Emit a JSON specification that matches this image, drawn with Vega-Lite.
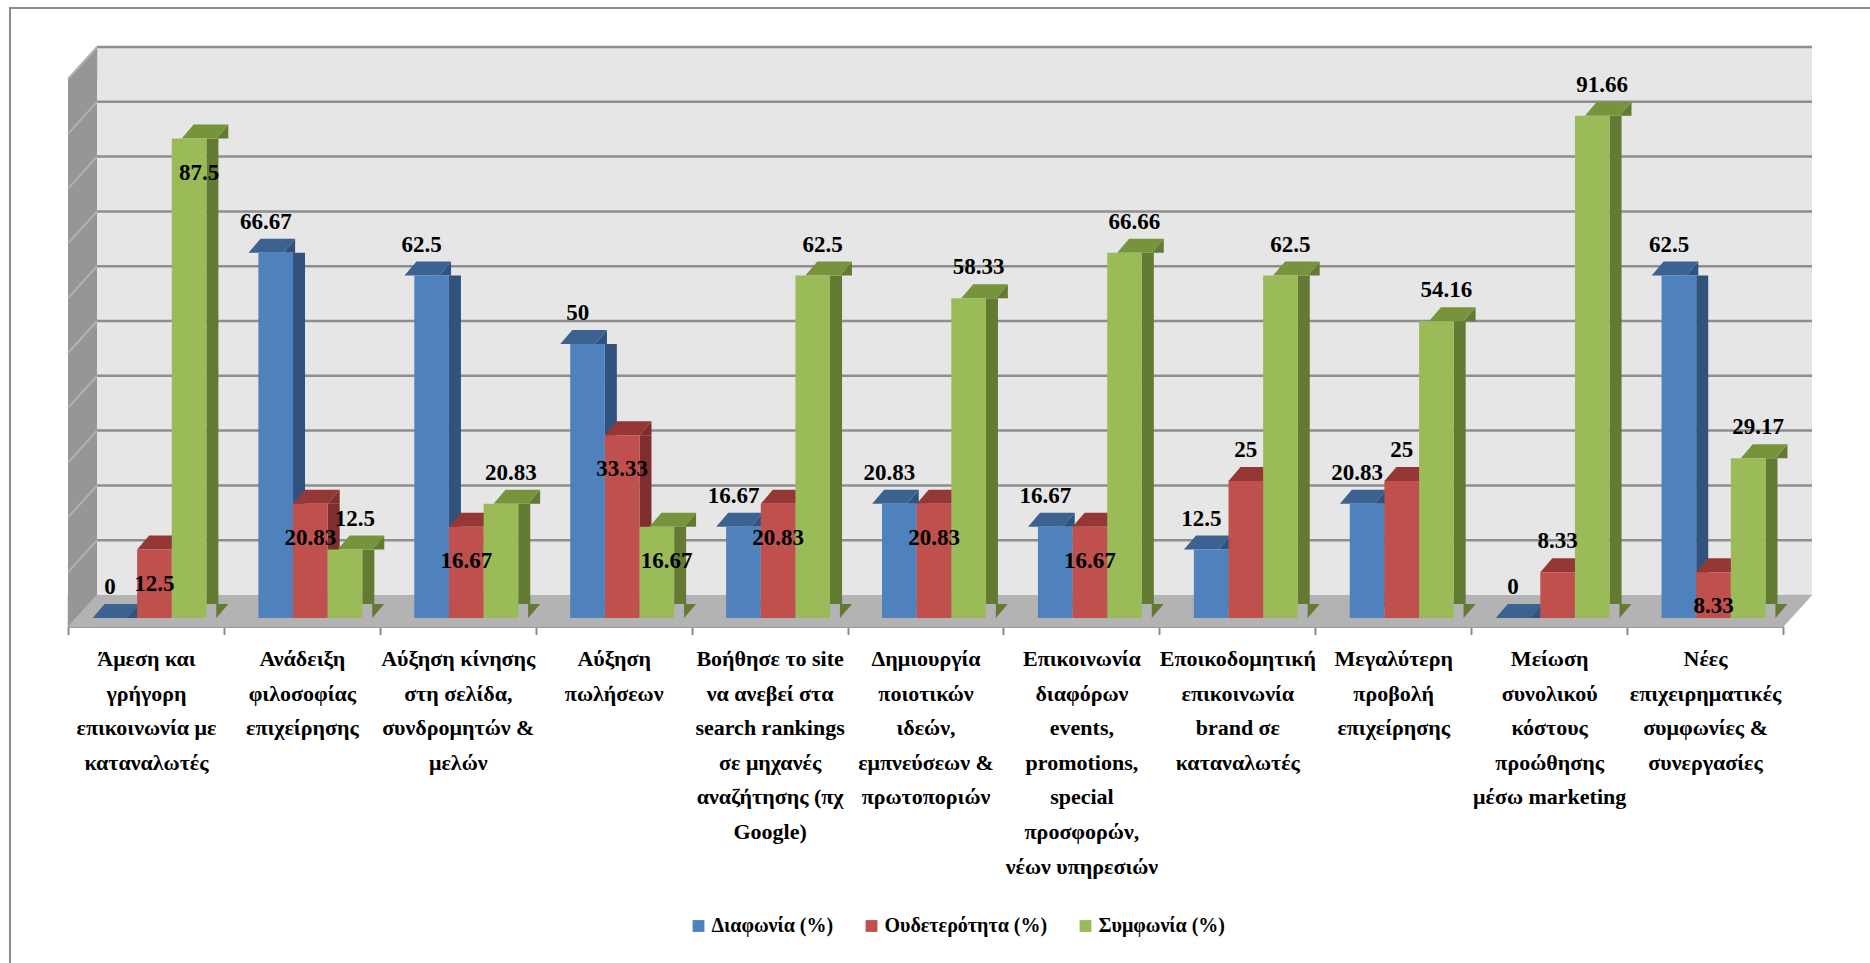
{
  "$schema": "https://vega.github.io/schema/vega-lite/v6.json",
  "width": 1715,
  "height": 548,
  "autosize": "none",
  "padding": {"left": 76.5, "top": 70, "right": 78.5, "bottom": 345},
  "background": "#ffffff",
  "config": {"view": {"stroke": null}},
  "datasets": {
    "survey": [
      {"category": "Άμεση και\nγρήγορη\nεπικοινωνία με\nκαταναλωτές", "series": "Διαφωνία (%)", "value": 0},
      {"category": "Άμεση και\nγρήγορη\nεπικοινωνία με\nκαταναλωτές", "series": "Ουδετερότητα (%)", "value": 12.5},
      {"category": "Άμεση και\nγρήγορη\nεπικοινωνία με\nκαταναλωτές", "series": "Συμφωνία (%)", "value": 87.5},
      {"category": "Ανάδειξη\nφιλοσοφίας\nεπιχείρησης", "series": "Διαφωνία (%)", "value": 66.67},
      {"category": "Ανάδειξη\nφιλοσοφίας\nεπιχείρησης", "series": "Ουδετερότητα (%)", "value": 20.83},
      {"category": "Ανάδειξη\nφιλοσοφίας\nεπιχείρησης", "series": "Συμφωνία (%)", "value": 12.5},
      {"category": "Αύξηση κίνησης\nστη σελίδα,\nσυνδρομητών &\nμελών", "series": "Διαφωνία (%)", "value": 62.5},
      {"category": "Αύξηση κίνησης\nστη σελίδα,\nσυνδρομητών &\nμελών", "series": "Ουδετερότητα (%)", "value": 16.67},
      {"category": "Αύξηση κίνησης\nστη σελίδα,\nσυνδρομητών &\nμελών", "series": "Συμφωνία (%)", "value": 20.83},
      {"category": "Αύξηση\nπωλήσεων", "series": "Διαφωνία (%)", "value": 50},
      {"category": "Αύξηση\nπωλήσεων", "series": "Ουδετερότητα (%)", "value": 33.33},
      {"category": "Αύξηση\nπωλήσεων", "series": "Συμφωνία (%)", "value": 16.67},
      {"category": "Βοήθησε το site\nνα ανεβεί στα\nsearch rankings\nσε μηχανές\nαναζήτησης (πχ\nGoogle)", "series": "Διαφωνία (%)", "value": 16.67},
      {"category": "Βοήθησε το site\nνα ανεβεί στα\nsearch rankings\nσε μηχανές\nαναζήτησης (πχ\nGoogle)", "series": "Ουδετερότητα (%)", "value": 20.83},
      {"category": "Βοήθησε το site\nνα ανεβεί στα\nsearch rankings\nσε μηχανές\nαναζήτησης (πχ\nGoogle)", "series": "Συμφωνία (%)", "value": 62.5},
      {"category": "Δημιουργία\nποιοτικών\nιδεών,\nεμπνεύσεων &\nπρωτοποριών", "series": "Διαφωνία (%)", "value": 20.83},
      {"category": "Δημιουργία\nποιοτικών\nιδεών,\nεμπνεύσεων &\nπρωτοποριών", "series": "Ουδετερότητα (%)", "value": 20.83},
      {"category": "Δημιουργία\nποιοτικών\nιδεών,\nεμπνεύσεων &\nπρωτοποριών", "series": "Συμφωνία (%)", "value": 58.33},
      {"category": "Επικοινωνία\nδιαφόρων\nevents,\npromotions,\nspecial\nπροσφορών,\nνέων υπηρεσιών", "series": "Διαφωνία (%)", "value": 16.67},
      {"category": "Επικοινωνία\nδιαφόρων\nevents,\npromotions,\nspecial\nπροσφορών,\nνέων υπηρεσιών", "series": "Ουδετερότητα (%)", "value": 16.67},
      {"category": "Επικοινωνία\nδιαφόρων\nevents,\npromotions,\nspecial\nπροσφορών,\nνέων υπηρεσιών", "series": "Συμφωνία (%)", "value": 66.66},
      {"category": "Εποικοδομητική\nεπικοινωνία\nbrand σε\nκαταναλωτές", "series": "Διαφωνία (%)", "value": 12.5},
      {"category": "Εποικοδομητική\nεπικοινωνία\nbrand σε\nκαταναλωτές", "series": "Ουδετερότητα (%)", "value": 25},
      {"category": "Εποικοδομητική\nεπικοινωνία\nbrand σε\nκαταναλωτές", "series": "Συμφωνία (%)", "value": 62.5},
      {"category": "Μεγαλύτερη\nπροβολή\nεπιχείρησης", "series": "Διαφωνία (%)", "value": 20.83},
      {"category": "Μεγαλύτερη\nπροβολή\nεπιχείρησης", "series": "Ουδετερότητα (%)", "value": 25},
      {"category": "Μεγαλύτερη\nπροβολή\nεπιχείρησης", "series": "Συμφωνία (%)", "value": 54.16},
      {"category": "Μείωση\nσυνολικού\nκόστους\nπροώθησης\nμέσω marketing", "series": "Διαφωνία (%)", "value": 0},
      {"category": "Μείωση\nσυνολικού\nκόστους\nπροώθησης\nμέσω marketing", "series": "Ουδετερότητα (%)", "value": 8.33},
      {"category": "Μείωση\nσυνολικού\nκόστους\nπροώθησης\nμέσω marketing", "series": "Συμφωνία (%)", "value": 91.66},
      {"category": "Νέες\nεπιχειρηματικές\nσυμφωνίες &\nσυνεργασίες", "series": "Διαφωνία (%)", "value": 62.5},
      {"category": "Νέες\nεπιχειρηματικές\nσυμφωνίες &\nσυνεργασίες", "series": "Ουδετερότητα (%)", "value": 8.33},
      {"category": "Νέες\nεπιχειρηματικές\nσυμφωνίες &\nσυνεργασίες", "series": "Συμφωνία (%)", "value": 29.17}
    ],
    "levels": [
      {"level": 10}, {"level": 20}, {"level": 30}, {"level": 40}, {"level": 50},
      {"level": 60}, {"level": 70}, {"level": 80}, {"level": 90}, {"level": 100}
    ]
  },
  "resolve": {"scale": {"x": "independent", "xOffset": "independent", "color": "independent"}},
  "layer": [
    {
      "description": "outer chart frame",
      "data": {"values": [{}]},
      "mark": {"type": "rect", "fill": "transparent", "stroke": "#8c8c8c", "strokeWidth": 2, "xOffset": -66.5, "x2Offset": 88.5, "yOffset": -62, "y2Offset": 352},
      "encoding": {
        "x": {"datum": 0, "type": "quantitative", "scale": {"domain": [0, 11], "nice": false, "zero": false}, "axis": null},
        "x2": {"datum": 11},
        "y": {"datum": 100, "type": "quantitative", "scale": {"domain": [0, 100]}, "axis": null},
        "y2": {"datum": 0}
      }
    },
    {
      "description": "back wall",
      "data": {"values": [{}]},
      "mark": {"type": "rect", "fill": "#e6e6e6", "xOffset": 20.5, "x2Offset": 20.5, "yOffset": -23, "y2Offset": -23},
      "encoding": {
        "x": {"datum": 0, "type": "quantitative", "scale": {"domain": [0, 11], "nice": false, "zero": false}, "axis": null},
        "x2": {"datum": 11},
        "y": {"datum": 100, "type": "quantitative", "scale": {"domain": [0, 100]}, "axis": null},
        "y2": {"datum": 0}
      }
    },
    {
      "description": "back wall gridlines",
      "data": {"name": "levels"},
      "mark": {"type": "rule", "color": "#8e8e8e", "strokeWidth": 2.5, "xOffset": 20.5, "x2Offset": 20.5, "yOffset": -23},
      "encoding": {
        "x": {"datum": 0, "type": "quantitative", "scale": {"domain": [0, 11], "nice": false, "zero": false}, "axis": null},
        "x2": {"datum": 11},
        "y": {"field": "level", "type": "quantitative", "scale": {"domain": [0, 100]}, "axis": null}
      }
    },
    {
      "description": "side wall body",
      "data": {"values": [{}]},
      "mark": {"type": "rect", "fill": "#969696", "xOffset": -8.5, "x2Offset": 20.5, "yOffset": 9, "y2Offset": -23},
      "encoding": {
        "x": {"datum": 0, "type": "quantitative", "scale": {"domain": [0, 11], "nice": false, "zero": false}, "axis": null},
        "x2": {"datum": 0},
        "y": {"datum": 100, "type": "quantitative", "scale": {"domain": [0, 100]}, "axis": null},
        "y2": {"datum": 0}
      }
    },
    {
      "description": "side wall top bevel",
      "data": {"values": [{}]},
      "mark": {"type": "point", "shape": "M-8.5,9L20.5,-23L20.5,9Z", "size": 4, "filled": true, "fill": "#969696", "stroke": "#969696", "strokeWidth": 0.5, "opacity": 1},
      "encoding": {
        "x": {"datum": 0, "type": "quantitative", "scale": {"domain": [0, 11], "nice": false, "zero": false}, "axis": null},
        "y": {"datum": 100, "type": "quantitative", "scale": {"domain": [0, 100]}, "axis": null}
      }
    },
    {
      "description": "side wall bottom bevel",
      "data": {"values": [{}]},
      "mark": {"type": "point", "shape": "M-8.5,-23L20.5,-23L-8.5,9Z", "size": 4, "filled": true, "fill": "#969696", "stroke": "#969696", "strokeWidth": 0.5, "opacity": 1},
      "encoding": {
        "x": {"datum": 0, "type": "quantitative", "scale": {"domain": [0, 11], "nice": false, "zero": false}, "axis": null},
        "y": {"datum": 0, "type": "quantitative", "scale": {"domain": [0, 100]}, "axis": null}
      }
    },
    {
      "description": "side wall gridlines",
      "data": {"name": "levels"},
      "mark": {"type": "rule", "color": "#b2b2b2", "strokeWidth": 2, "xOffset": -8.5, "x2Offset": 20.5, "yOffset": 9, "y2Offset": -23},
      "encoding": {
        "x": {"datum": 0, "type": "quantitative", "scale": {"domain": [0, 11], "nice": false, "zero": false}, "axis": null},
        "x2": {"datum": 0},
        "y": {"field": "level", "type": "quantitative", "scale": {"domain": [0, 100]}, "axis": null},
        "y2": {"field": "level"}
      }
    },
    {
      "description": "floor body",
      "data": {"values": [{}]},
      "mark": {"type": "rect", "fill": "#b3b3b3", "xOffset": 20.5, "x2Offset": -8.5, "yOffset": -23, "y2Offset": 9},
      "encoding": {
        "x": {"datum": 0, "type": "quantitative", "scale": {"domain": [0, 11], "nice": false, "zero": false}, "axis": null},
        "x2": {"datum": 11},
        "y": {"datum": 0, "type": "quantitative", "scale": {"domain": [0, 100]}, "axis": null},
        "y2": {"datum": 0}
      }
    },
    {
      "description": "floor left bevel",
      "data": {"values": [{}]},
      "mark": {"type": "point", "shape": "M-8.5,9L20.5,9L20.5,-23Z", "size": 4, "filled": true, "fill": "#b3b3b3", "stroke": "#b3b3b3", "strokeWidth": 0.5, "opacity": 1},
      "encoding": {
        "x": {"datum": 0, "type": "quantitative", "scale": {"domain": [0, 11], "nice": false, "zero": false}, "axis": null},
        "y": {"datum": 0, "type": "quantitative", "scale": {"domain": [0, 100]}, "axis": null}
      }
    },
    {
      "description": "floor right bevel",
      "data": {"values": [{}]},
      "mark": {"type": "point", "shape": "M-8.5,9L-8.5,-23L20.5,-23Z", "size": 4, "filled": true, "fill": "#b3b3b3", "stroke": "#b3b3b3", "strokeWidth": 0.5, "opacity": 1},
      "encoding": {
        "x": {"datum": 11, "type": "quantitative", "scale": {"domain": [0, 11], "nice": false, "zero": false}, "axis": null},
        "y": {"datum": 0, "type": "quantitative", "scale": {"domain": [0, 100]}, "axis": null}
      }
    },
    {
      "description": "column side faces",
      "data": {"name": "survey"},
      "mark": {"type": "bar", "y2Offset": -14},
      "encoding": {
        "x": {"field": "category", "type": "nominal", "sort": null, "scale": {"paddingInner": 0, "paddingOuter": 0}, "axis": null},
        "xOffset": {"field": "series", "type": "nominal", "scale": {"range": [60.62, 141.9], "paddingInner": 0.6536, "paddingOuter": 0}},
        "y": {"field": "value", "type": "quantitative", "scale": {"domain": [0, 100]}, "axis": null},
        "y2": {"datum": 0},
        "color": {"field": "series", "type": "nominal", "scale": {"range": ["#30527c", "#7e2e2c", "#627a31"]}, "legend": null}
      }
    },
    {
      "description": "column side faces, upper bevel",
      "data": {"name": "survey"},
      "mark": {"type": "point", "shape": "M17.32,0L29.32,-14L29.32,0Z", "size": 4, "filled": true, "opacity": 1, "strokeWidth": 0},
      "encoding": {
        "x": {"field": "category", "type": "nominal", "sort": null, "scale": {"paddingInner": 0, "paddingOuter": 0}, "axis": null},
        "xOffset": {"field": "series", "type": "nominal", "scale": {"paddingInner": 0, "paddingOuter": 0.75}},
        "y": {"field": "value", "type": "quantitative", "scale": {"domain": [0, 100]}, "axis": null},
        "color": {"field": "series", "type": "nominal", "scale": {"range": ["#30527c", "#7e2e2c", "#627a31"]}, "legend": null}
      }
    },
    {
      "description": "column side faces, lower bevel",
      "data": {"name": "survey"},
      "mark": {"type": "point", "shape": "M17.32,-14L17.32,0L29.32,-14Z", "size": 4, "filled": true, "opacity": 1, "strokeWidth": 0},
      "encoding": {
        "x": {"field": "category", "type": "nominal", "sort": null, "scale": {"paddingInner": 0, "paddingOuter": 0}, "axis": null},
        "xOffset": {"field": "series", "type": "nominal", "scale": {"paddingInner": 0, "paddingOuter": 0.75}},
        "y": {"datum": 0, "type": "quantitative", "scale": {"domain": [0, 100]}, "axis": null},
        "color": {"field": "series", "type": "nominal", "scale": {"range": ["#30527c", "#7e2e2c", "#627a31"]}, "legend": null}
      }
    },
    {
      "description": "column top faces",
      "data": {"name": "survey"},
      "mark": {"type": "point", "shape": "M-17.32,0L17.32,0L29.32,-14L-5.32,-14Z", "size": 4, "filled": true, "opacity": 1, "strokeWidth": 0},
      "encoding": {
        "x": {"field": "category", "type": "nominal", "sort": null, "scale": {"paddingInner": 0, "paddingOuter": 0}, "axis": null},
        "xOffset": {"field": "series", "type": "nominal", "scale": {"paddingInner": 0, "paddingOuter": 0.75}},
        "y": {"field": "value", "type": "quantitative", "scale": {"domain": [0, 100]}, "axis": null},
        "color": {"field": "series", "type": "nominal", "scale": {"range": ["#3b6290", "#953735", "#77933c"]}, "legend": null}
      }
    },
    {
      "description": "column front faces, category axis and legend",
      "data": {"name": "survey"},
      "mark": {"type": "bar"},
      "encoding": {
        "x": {
          "field": "category", "type": "nominal", "sort": null,
          "scale": {"paddingInner": 0, "paddingOuter": 0},
          "axis": {
            "title": null,
            "labelExpr": "isString(datum.value) ? split(datum.value, '\\n') : ''",
            "labelAngle": 0,
            "labelFont": "'Liberation Serif', 'Times New Roman', 'DejaVu Serif', serif",
            "labelFontWeight": "bold",
            "labelFontSize": 22,
            "labelLineHeight": 34.6,
            "labelColor": "#000000",
            "labelPadding": 14,
            "labelLimit": 0,
            "labelOverlap": false,
            "labelBaseline": "top",
            "tickBand": "extent",
            "tickSize": 8,
            "tickColor": "#8c8c8c",
            "tickWidth": 2,
            "domain": true,
            "domainColor": "#999999",
            "domainWidth": 2,
            "offset": 17,
            "translate": -8
          }
        },
        "xOffset": {"field": "series", "type": "nominal", "scale": {"paddingInner": 0, "paddingOuter": 0.75}},
        "y": {"field": "value", "type": "quantitative", "scale": {"domain": [0, 100]}, "axis": null},
        "color": {
          "field": "series", "type": "nominal",
          "scale": {"range": ["#4f81bd", "#c0504d", "#9bbb59"]},
          "legend": {
            "orient": "none",
            "legendX": 612,
            "legendY": 846,
            "direction": "horizontal",
            "title": null,
            "symbolType": "square",
            "symbolSize": 140,
            "symbolStrokeWidth": 0,
            "labelFont": "'Liberation Serif', 'Times New Roman', 'DejaVu Serif', serif",
            "labelFontWeight": "bold",
            "labelFontSize": 20,
            "labelColor": "#000000",
            "labelLimit": 0,
            "labelOffset": 3,
            "columnPadding": 28
          }
        }
      }
    },
    {
      "description": "value labels above the columns",
      "data": {"name": "survey"},
      "mark": {"type": "text", "font": "'Liberation Serif', 'Times New Roman', 'DejaVu Serif', serif", "fontWeight": "bold", "fontSize": 23, "baseline": "middle", "align": "center", "dy": -31, "color": "#000000"},
      "encoding": {
        "x": {"field": "category", "type": "nominal", "sort": null, "scale": {"paddingInner": 0, "paddingOuter": 0}, "axis": null},
        "xOffset": {"field": "series", "type": "nominal", "scale": {"paddingInner": 0, "paddingOuter": 0.75}},
        "y": {"field": "value", "type": "quantitative", "scale": {"domain": [0, 100]}, "axis": null},
        "text": {
          "condition": {
            "test": "!((datum.series == 'Ουδετερότητα (%)' && indexof(['Εποικοδομητική', 'Μεγαλύτερη', 'Μείωση'], split(datum.category, '\\n')[0]) < 0) || (datum.series == 'Συμφωνία (%)' && (indexof(datum.category, 'Άμεση') == 0 || indexof(datum.category, 'πωλήσεων') >= 0)))",
            "field": "value", "type": "quantitative"
          },
          "value": ""
        }
      }
    },
    {
      "description": "value labels set inside the columns",
      "data": {"name": "survey"},
      "mark": {"type": "text", "font": "'Liberation Serif', 'Times New Roman', 'DejaVu Serif', serif", "fontWeight": "bold", "fontSize": 23, "baseline": "middle", "align": "center", "dy": 34, "color": "#000000"},
      "encoding": {
        "x": {"field": "category", "type": "nominal", "sort": null, "scale": {"paddingInner": 0, "paddingOuter": 0}, "axis": null},
        "xOffset": {"field": "series", "type": "nominal", "scale": {"paddingInner": 0, "paddingOuter": 0.75}},
        "y": {"field": "value", "type": "quantitative", "scale": {"domain": [0, 100]}, "axis": null},
        "text": {
          "condition": {
            "test": "(datum.series == 'Ουδετερότητα (%)' && indexof(['Εποικοδομητική', 'Μεγαλύτερη', 'Μείωση'], split(datum.category, '\\n')[0]) < 0) || (datum.series == 'Συμφωνία (%)' && (indexof(datum.category, 'Άμεση') == 0 || indexof(datum.category, 'πωλήσεων') >= 0))",
            "field": "value", "type": "quantitative"
          },
          "value": ""
        }
      }
    }
  ]
}
